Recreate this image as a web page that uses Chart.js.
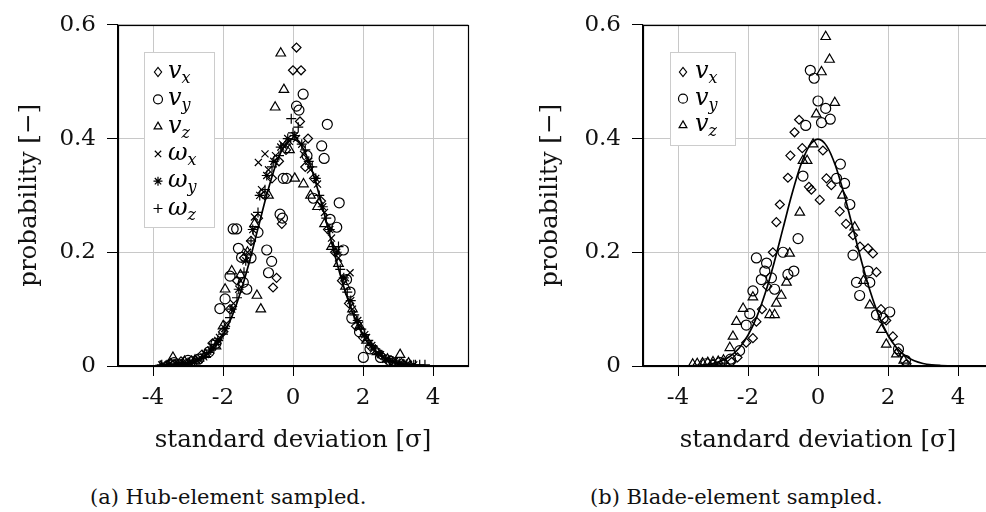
<!DOCTYPE html>
<html><head><meta charset="utf-8">
<script src="https://cdn.jsdelivr.net/npm/chart.js@4/dist/chart.umd.min.js"></script>
<style>
html,body{margin:0;padding:0;background:#fff;width:986px;height:512px;overflow:hidden;}
#wrapA{position:absolute;left:0;top:0;width:490px;height:470px;}
#wrapB{position:absolute;left:500px;top:0;width:486px;height:470px;overflow:hidden;}
.cap{position:absolute;top:483px;font-family:"DejaVu Serif",serif;font-size:21px;line-height:28px;color:#111;white-space:nowrap;}
</style>
</head><body>
<div id="wrapA"><canvas id="cA" width="490" height="470"></canvas></div>
<div id="wrapB"><canvas id="cB" width="520" height="470"></canvas></div>
<div class="cap" style="left:90px">(a) Hub-element sampled.</div>
<div class="cap" style="left:590px">(b) Blade-element sampled.</div>
<script>
// ---- tick labels ----
const xTicks = [-4, -2, 0, 2, 4];
const xTickLabels = ["-4", "-2", "0", "2", "4"];
const yTicks = [0, 0.2, 0.4, 0.6];
const yTickLabels = ["0", "0.2", "0.4", "0.6"];

// ---- reference Gaussian curve ----
const curveX = [-4,-3.75,-3.5,-3.25,-3,-2.75,-2.5,-2.25,-2,-1.75,-1.5,-1.25,-1,-0.75,-0.5,-0.25,0,0.25,0.5,0.75,1,1.25,1.5,1.75,2,2.25,2.5,2.75,3,3.25,3.5,3.75,4];
const curveY = [0.0001,0.0004,0.0009,0.002,0.0044,0.0091,0.0175,0.0317,0.054,0.0863,0.1295,0.1826,0.242,0.3011,0.3521,0.3867,0.3989,0.3867,0.3521,0.3011,0.242,0.1826,0.1295,0.0863,0.054,0.0317,0.0175,0.0091,0.0044,0.002,0.0009,0.0004,0.0001];

// ---- (a) hub-element sampled ----
const hubVx = [[-3.5,0.005],[-3.2,0.008],[-2.9,0.01],[-2.6,0.02],[-2.3,0.04],[-2.0,0.06],[-1.8,0.1],[-1.6,0.15],[-1.4,0.19],[-1.2,0.22],[-1.0,0.26],[-0.8,0.3],[-0.6,0.33],[-0.47,0.155],[-0.57,0.138],[-0.32,0.25],[-0.4,0.36],[-0.2,0.38],[0.0,0.52],[0.1,0.56],[0.23,0.52],[0.2,0.43],[0.43,0.4],[0.35,0.35],[0.6,0.33],[0.8,0.29],[1.0,0.24],[1.2,0.2],[1.4,0.15],[1.6,0.11],[1.8,0.07],[2.0,0.05],[2.2,0.035],[2.5,0.02],[2.8,0.01],[3.1,0.005]];
const hubVy = [[-3.4,0.006],[-3.0,0.01],[-2.7,0.012],[-2.4,0.025],[-2.2,0.04],[-2.09,0.101],[-1.94,0.118],[-1.8,0.158],[-1.71,0.241],[-1.61,0.241],[-1.56,0.207],[-1.47,0.191],[-1.42,0.147],[-1.32,0.135],[-1.2,0.19],[-1.0,0.235],[-0.75,0.204],[-0.7,0.164],[-0.61,0.184],[-0.37,0.267],[-0.3,0.26],[-0.28,0.33],[-0.18,0.33],[0.1,0.457],[0.17,0.45],[0.29,0.478],[0.4,0.37],[0.58,0.295],[0.82,0.387],[0.89,0.365],[0.98,0.425],[1.06,0.258],[1.25,0.244],[1.32,0.287],[1.44,0.204],[1.53,0.152],[1.63,0.13],[1.68,0.084],[1.9,0.06],[2.01,0.015],[2.2,0.03],[2.5,0.015],[2.8,0.008]];
const hubVz = [[-3.43,0.015],[-3.1,0.008],[-2.8,0.01],[-2.5,0.02],[-2.2,0.035],[-2.0,0.07],[-1.94,0.135],[-1.75,0.167],[-1.5,0.16],[-1.3,0.2],[-1.1,0.25],[-1.03,0.124],[-0.92,0.1],[-0.7,0.3],[-0.51,0.455],[-0.35,0.55],[-0.26,0.486],[-0.1,0.38],[0.05,0.33],[0.3,0.32],[0.5,0.3],[0.7,0.28],[0.9,0.25],[1.1,0.21],[1.3,0.18],[1.5,0.14],[1.7,0.1],[1.9,0.07],[2.1,0.045],[2.4,0.025],[2.7,0.012],[3.06,0.02],[3.3,0.005]];
const hubWx = [[-3.7,0.003],[-3.5,0.004],[-3.3,0.005],[-3.1,0.006],[-2.9,0.008],[-2.7,0.012],[-2.5,0.02],[-2.3,0.034],[-2.1,0.05],[-1.9,0.075],[-1.7,0.11],[-1.5,0.15],[-1.3,0.2],[-1.1,0.262],[-0.9,0.31],[-0.8,0.373],[-0.99,0.358],[-0.7,0.345],[-0.5,0.37],[-0.3,0.39],[-0.1,0.395],[0.1,0.4],[0.3,0.372],[0.5,0.345],[0.7,0.32],[0.9,0.27],[1.1,0.225],[1.3,0.19],[1.5,0.155],[1.63,0.164],[1.7,0.1],[1.9,0.072],[2.1,0.05],[2.3,0.03],[2.5,0.02],[2.7,0.012],[2.9,0.008],[3.1,0.005],[3.3,0.003]];
const hubWy = [[-3.75,0.002],[-3.55,0.003],[-3.35,0.004],[-3.15,0.006],[-2.95,0.007],[-2.75,0.01],[-2.55,0.016],[-2.35,0.028],[-2.15,0.045],[-1.95,0.066],[-1.75,0.1],[-1.55,0.135],[-1.35,0.185],[-1.15,0.24],[-0.95,0.3],[-0.75,0.335],[-0.55,0.36],[-0.35,0.385],[-0.15,0.4],[0.05,0.405],[0.25,0.39],[0.45,0.36],[0.65,0.33],[0.85,0.28],[1.05,0.24],[1.25,0.2],[1.45,0.155],[1.65,0.115],[1.85,0.08],[2.05,0.055],[2.25,0.036],[2.45,0.022],[2.65,0.012],[2.85,0.008],[3.05,0.005],[3.25,0.003],[3.45,0.002]];
const hubWz = [[-3.8,0.001],[-3.6,0.002],[-3.4,0.003],[-3.2,0.004],[-3.0,0.006],[-2.8,0.009],[-2.6,0.014],[-2.4,0.024],[-2.2,0.038],[-2.0,0.056],[-1.8,0.085],[-1.6,0.12],[-1.4,0.165],[-1.2,0.22],[-1.0,0.27],[-0.8,0.31],[-0.6,0.35],[-0.4,0.37],[-0.2,0.39],[-0.05,0.435],[0.0,0.41],[0.15,0.42],[0.35,0.38],[0.55,0.35],[0.75,0.3],[0.95,0.26],[1.15,0.21],[1.3,0.21],[1.35,0.17],[1.55,0.13],[1.75,0.09],[1.95,0.065],[2.15,0.045],[2.35,0.03],[2.55,0.018],[2.75,0.01],[2.95,0.006],[3.15,0.004],[3.35,0.002],[3.5,0.002],[3.62,0.002],[3.77,0.002]];

// ---- (b) blade-element sampled ----
const bladeVx = [[-3.0,0.004],[-2.7,0.006],[-2.47,0.007],[-2.3,0.015],[-2.05,0.041],[-1.86,0.049],[-1.76,0.078],[-1.6,0.1],[-1.45,0.14],[-1.29,0.2],[-1.19,0.253],[-1.09,0.284],[-0.86,0.331],[-0.79,0.37],[-0.67,0.411],[-0.54,0.433],[-0.45,0.383],[-0.26,0.315],[-0.19,0.31],[0.05,0.292],[0.14,0.379],[0.24,0.33],[0.38,0.318],[0.62,0.272],[0.8,0.25],[1.0,0.23],[1.2,0.21],[1.43,0.207],[1.57,0.198],[1.67,0.165],[1.8,0.1],[1.95,0.08],[2.14,0.052],[2.3,0.025],[2.53,0.004]];
const bladeVy = [[-3.2,0.004],[-2.8,0.006],[-2.5,0.012],[-2.24,0.027],[-2.05,0.072],[-1.95,0.092],[-1.86,0.132],[-1.76,0.19],[-1.62,0.152],[-1.52,0.167],[-1.47,0.181],[-1.33,0.155],[-1.24,0.135],[-1.0,0.2],[-0.86,0.161],[-0.69,0.167],[-0.57,0.224],[-0.43,0.334],[-0.35,0.423],[-0.22,0.52],[-0.11,0.506],[0.0,0.466],[0.1,0.428],[0.22,0.453],[0.35,0.434],[0.53,0.33],[0.64,0.355],[0.76,0.321],[0.91,0.284],[1.0,0.195],[1.1,0.147],[1.19,0.124],[1.43,0.167],[1.48,0.147],[1.67,0.09],[1.86,0.084],[2.05,0.095],[2.3,0.03],[2.5,0.01]];
const bladeVz = [[-3.58,0.003],[-3.45,0.004],[-3.3,0.005],[-3.15,0.006],[-3.0,0.007],[-2.85,0.008],[-2.7,0.01],[-2.52,0.032],[-2.43,0.052],[-2.33,0.078],[-2.14,0.101],[-1.86,0.121],[-1.38,0.09],[-1.24,0.09],[-1.19,0.11],[-1.05,0.124],[-0.9,0.147],[-0.81,0.198],[-0.52,0.27],[-0.43,0.361],[-0.31,0.361],[-0.14,0.39],[-0.05,0.443],[0.1,0.517],[0.22,0.579],[0.33,0.539],[0.48,0.463],[0.7,0.3],[1.05,0.244],[1.3,0.15],[1.48,0.107],[1.81,0.064],[1.95,0.038],[2.24,0.021],[2.45,0.01]];

const seriesNames = ["v|x", "v|y", "v|z", "ω|x", "ω|y", "ω|z"];
const markerStyles = ["rectRot", "circle", "triangle", "crossRot", "star", "cross"];
const markerRadii = [4.5, 5, 5.5, 5, 5, 5];

const FONT = '"DejaVu Serif", "Liberation Serif", serif';

function toPts(arr) { return arr.map(p => ({x: p[0], y: p[1]})); }

function drawMarker(ctx, style, x, y, r) {
  ctx.beginPath();
  if (style === 'circle') { ctx.arc(x, y, r, 0, Math.PI * 2); }
  else if (style === 'rectRot') { ctx.moveTo(x - r * 0.8, y); ctx.lineTo(x, y - r); ctx.lineTo(x + r * 0.8, y); ctx.lineTo(x, y + r); ctx.closePath(); }
  else if (style === 'triangle') { ctx.moveTo(x, y - r); ctx.lineTo(x + r * 0.866, y + r / 2); ctx.lineTo(x - r * 0.866, y + r / 2); ctx.closePath(); }
  else if (style === 'crossRot') { const d = r * 0.707; ctx.moveTo(x - d, y - d); ctx.lineTo(x + d, y + d); ctx.moveTo(x + d, y - d); ctx.lineTo(x - d, y + d); }
  else if (style === 'cross') { ctx.moveTo(x - r, y); ctx.lineTo(x + r, y); ctx.moveTo(x, y - r); ctx.lineTo(x, y + r); }
  else if (style === 'star') { const d = r * 0.707; ctx.moveTo(x - r, y); ctx.lineTo(x + r, y); ctx.moveTo(x, y - r); ctx.lineTo(x, y + r); ctx.moveTo(x - d, y - d); ctx.lineTo(x + d, y + d); ctx.moveTo(x + d, y - d); ctx.lineTo(x - d, y + d); }
  ctx.stroke();
}

function legendPlugin(box, count) {
  return {
    id: 'mathLegend',
    afterDraw(chart) {
      const ctx = chart.ctx;
      ctx.save();
      ctx.fillStyle = '#fff';
      ctx.fillRect(box.x, box.y, box.w, box.h);
      ctx.strokeStyle = '#cccccc';
      ctx.lineWidth = 1;
      ctx.strokeRect(box.x + 0.5, box.y + 0.5, box.w, box.h);
      for (let i = 0; i < count; i++) {
        const cy = box.firstY + i * box.step;
        ctx.strokeStyle = '#000';
        ctx.lineWidth = 1.2;
        drawMarker(ctx, markerStyles[i], box.markerX, cy, 4.5);
        const parts = seriesNames[i].split('|');
        ctx.fillStyle = '#000';
        ctx.textBaseline = 'alphabetic';
        ctx.textAlign = 'left';
        ctx.font = 'italic 24px ' + FONT;
        ctx.fillText(parts[0], box.textX, cy + 6);
        const w = ctx.measureText(parts[0]).width;
        ctx.font = 'italic 16px ' + FONT;
        ctx.fillText(parts[1], box.textX + w, cy + 11);
      }
      ctx.restore();
    }
  };
}

const framePlugin = {
  id: 'frame',
  afterDatasetsDraw(chart) {
    const a = chart.chartArea, ctx = chart.ctx;
    ctx.save();
    ctx.strokeStyle = '#000';
    ctx.lineWidth = 1.2;
    ctx.strokeRect(Math.round(a.left) + 0.5, Math.round(a.top) + 0.5, Math.round(a.right - a.left), Math.round(a.bottom - a.top));
    ctx.restore();
  }
};

function scatterSet(label, data, idx) {
  return {
    type: 'scatter', label: label, data: toPts(data),
    pointStyle: markerStyles[idx], pointRadius: markerRadii[idx], pointHoverRadius: markerRadii[idx],
    borderColor: '#000', backgroundColor: 'rgba(0,0,0,0)', pointBorderWidth: 1.2, borderWidth: 1.2
  };
}

function curveSet() {
  return {
    type: 'line', label: 'normal', data: curveX.map((x, i) => ({x: x, y: curveY[i]})),
    borderColor: '#000', borderWidth: 1.7, pointRadius: 0, fill: false,
    cubicInterpolationMode: 'monotone', order: -1
  };
}

function makeChart(id, datasets, yAxisWidth, yTitlePad, padRight, legendBox, legendCount) {
  return new Chart(document.getElementById(id), {
    type: 'scatter',
    data: { datasets: datasets },
    options: {
      responsive: false, animation: false, devicePixelRatio: 1,
      layout: { padding: { top: 16, right: padRight, left: 0, bottom: 0 } },
      plugins: { legend: { display: false }, tooltip: { enabled: false } },
      scales: {
        x: {
          type: 'linear', min: -5, max: 5,
          afterBuildTicks: s => { s.ticks = xTicks.map(v => ({value: v})); },
          afterFit: s => { s.height = 104; },
          ticks: { callback: (v) => xTickLabels[xTicks.indexOf(v)], font: { family: FONT, size: 23 }, color: '#111', padding: 8, maxRotation: 0 },
          grid: { color: '#c8c8c8', lineWidth: 1, tickLength: 10, tickColor: '#000', drawTicks: true },
          border: { color: '#000', width: 1.2 },
          title: { display: true, text: 'standard deviation [σ]', font: { family: FONT, size: 24.5 }, color: '#111', padding: { top: 0, bottom: 15 } }
        },
        y: {
          type: 'linear', min: 0, max: 0.6,
          afterBuildTicks: s => { s.ticks = yTicks.map(v => ({value: v})); },
          afterFit: s => { s.width = yAxisWidth; },
          ticks: { callback: (v) => yTickLabels[yTicks.indexOf(v)], font: { family: FONT, size: 23 }, color: '#111', padding: 11 },
          grid: { color: '#c8c8c8', lineWidth: 1, tickLength: 11, tickColor: '#000' },
          border: { color: '#000', width: 1.2 },
          title: { display: true, text: 'probability [−]', font: { family: FONT, size: 24.5 }, color: '#111', padding: { top: yTitlePad, bottom: 0 } }
        }
      }
    },
    plugins: [framePlugin, legendPlugin(legendBox, legendCount)]
  });
}

makeChart('cA', [
  curveSet(),
  scatterSet('vx', hubVx, 0), scatterSet('vy', hubVy, 1), scatterSet('vz', hubVz, 2),
  scatterSet('wx', hubWx, 3), scatterSet('wy', hubWy, 4), scatterSet('wz', hubWz, 5)
], 118, 15, 22, { x: 144, y: 52, w: 70, h: 175, markerX: 158, textX: 168, firstY: 72, step: 27.3 }, 6);

makeChart('cB', [
  curveSet(),
  scatterSet('vx', bladeVx, 0), scatterSet('vy', bladeVy, 1), scatterSet('vz', bladeVz, 2)
], 143, 36, 27, { x: 170, y: 52, w: 65, h: 93, markerX: 183, textX: 195, firstY: 72, step: 26.7 }, 3);
</script>
</body></html>
